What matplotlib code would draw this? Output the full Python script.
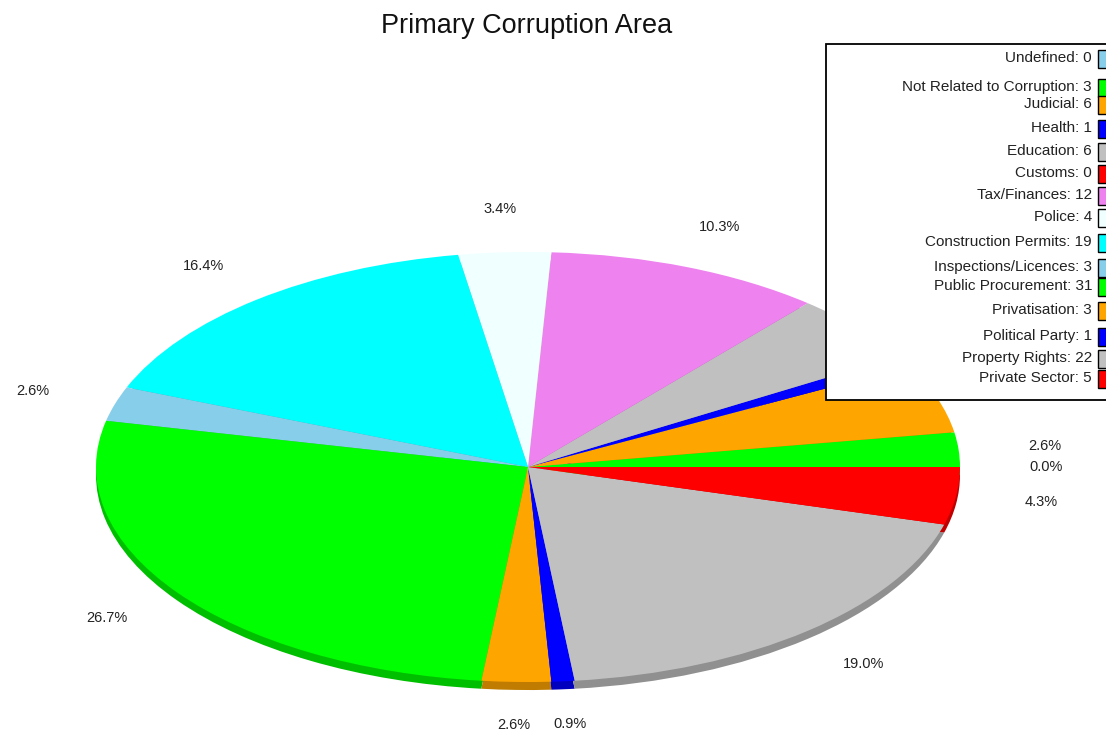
import numpy as np
import matplotlib.pyplot as plt
from matplotlib.patches import Rectangle
from matplotlib.colors import to_rgb

plt.rcParams['font.family'] = ['Liberation Sans', 'DejaVu Sans']

categories = ['Undefined', 'Not Related to Corruption', 'Judicial', 'Health',
              'Education', 'Customs', 'Tax/Finances', 'Police',
              'Construction Permits', 'Inspections/Licences', 'Public Procurement',
              'Privatisation', 'Political Party', 'Property Rights', 'Private Sector']
counts = [0, 3, 6, 1, 6, 0, 12, 4, 19, 3, 31, 3, 1, 22, 5]
palette = ['#87ceeb', '#00ff00', '#ffa500', '#0000ff', '#c0c0c0',
           '#ff0000', '#ee82ee', '#f0ffff', '#00ffff']
colors = [palette[i % len(palette)] for i in range(len(counts))]
side_colors = [tuple(c * 0.75 for c in to_rgb(col)) for col in colors]

# legend row centres in pixels (top-down), uneven as in the original
legend_rows = [58, 87, 104, 128, 151, 173, 195, 217, 242, 267, 286, 310, 336, 358, 378]

W, H = 1106, 733
fig = plt.figure(figsize=(W / 100, H / 100), dpi=100)

# pie axes spans the ellipse: x 96..960, y 252..682 (pixels from top)
x0, x1, y0, y1 = 96, 960, 252, 682
ax = fig.add_axes([x0 / W, 1 - y1 / H, (x1 - x0) / W, (y1 - y0) / H])
ry = (y1 - y0) / 2
depth = 8 / ry

ax.pie(counts, colors=side_colors, startangle=0, counterclock=True,
       center=(0, -depth), wedgeprops=dict(linewidth=0))
_, _, pct_texts = ax.pie(counts, colors=colors, startangle=0, counterclock=True,
                         autopct='%.1f%%', pctdistance=1.2,
                         textprops=dict(fontsize=10.5, color='#222222'),
                         wedgeprops=dict(linewidth=0))
ax.set_aspect('auto')
ax.set_xlim(-1, 1)
ax.set_ylim(-1, 1)
ax.axis('off')

# overlay axes in pixel coordinates for title and legend
ov = fig.add_axes([0, 0, 1, 1])
ov.set_xlim(0, W)
ov.set_ylim(H, 0)
ov.axis('off')
ov.patch.set_alpha(0)

ov.text(527, 26, 'Primary Corruption Area', ha='center', va='center',
        fontsize=19.5, color='#111111')

box = (826, 44, 300, 356)
ov.add_patch(Rectangle(box[:2], box[2], box[3], facecolor='white',
                       edgecolor='black', linewidth=1.3, zorder=3))
for name, val, col, yc in zip(categories, counts, colors, legend_rows):
    ov.text(1092, yc, f'{name}: {val}', ha='right', va='center',
            fontsize=11, color='#222222', zorder=4)
    ov.add_patch(Rectangle((1098, yc - 8), 12, 18, facecolor=col,
                           edgecolor='black', linewidth=1.0, zorder=4))

# labels that fall under the legend box are hidden, as in the original
for t in pct_texts:
    t.set_clip_on(False)
    px, py = ax.transData.transform(t.get_position())
    py = H - py
    if box[0] < px and box[1] < py < box[1] + box[3]:
        t.set_visible(False)

fig.savefig('out.png', dpi=100)
